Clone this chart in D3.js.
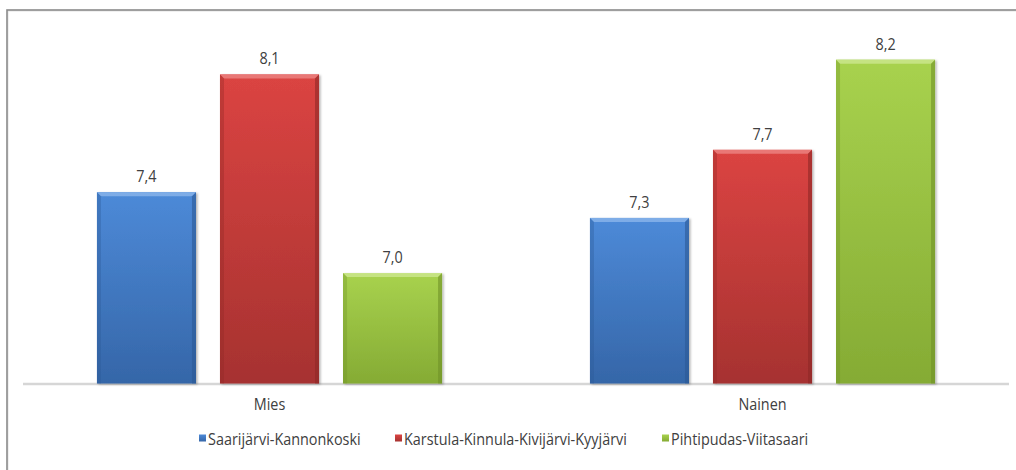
<!DOCTYPE html>
<html>
<head>
<meta charset="utf-8">
<script src="https://cdn.jsdelivr.net/npm/d3@7"></script>
<style>
  html, body { margin: 0; padding: 0; background: #ffffff; }
  svg { display: block; }
  text { font-family: "Open Sans", "DejaVu Sans", sans-serif; fill: #404040; }
</style>
</head>
<body>
<svg id="chart" width="1016" height="470"></svg>
<script>
// ---- data ----
const categories = ["Mies", "Nainen"];
const seriesNames = ["Saarijärvi-Kannonkoski", "Karstula-Kinnula-Kivijärvi-Kyyjärvi", "Pihtipudas-Viitasaari"];
const saarijarviValues = [7.44, 7.30];
const karstulaValues = [8.08, 7.67];
const pihtipudasValues = [7.00, 8.16];
const axisMin = 6.4;
const axisMax = 8.4;

const seriesValues = [saarijarviValues, karstulaValues, pihtipudasValues];
const colors = [
  { top: "#4d8ad8", bottom: "#3566a8", light: "#8fb8ec", dark: "#2c5894" },
  { top: "#db4442", bottom: "#a63230", light: "#ee8a88", dark: "#8e2826" },
  { top: "#a8d24e", bottom: "#85ab34", light: "#cfe894", dark: "#6f9128" }
];

const svg = d3.select("#chart");
const defs = svg.append("defs");

colors.forEach((c, i) => {
  const g = defs.append("linearGradient").attr("id", "grad" + i)
    .attr("x1", 0).attr("y1", 0).attr("x2", 0).attr("y2", 1);
  g.append("stop").attr("offset", "0%").attr("stop-color", c.top);
  g.append("stop").attr("offset", "100%").attr("stop-color", c.bottom);
});
const shadow = defs.append("filter").attr("id", "shadow")
  .attr("x", "-10%").attr("y", "-10%").attr("width", "130%").attr("height", "130%");
shadow.append("feDropShadow").attr("dx", 1.5).attr("dy", 1).attr("stdDeviation", 1.2)
  .attr("flood-color", "#000").attr("flood-opacity", 0.3);

// frame
svg.append("rect").attr("x", 8).attr("y", 11).attr("width", 1030).attr("height", 480)
  .attr("fill", "none").attr("stroke", "#e2e2e2").attr("stroke-width", 1);
svg.append("rect").attr("x", 7).attr("y", 10).attr("width", 1030).attr("height", 480)
  .attr("fill", "none").attr("stroke", "#8a8a8a").attr("stroke-width", 1.6);

// scales
const x0 = d3.scaleBand().domain(categories).range([23, 1009]).paddingInner(0.3).paddingOuter(0.15);
const x1 = d3.scaleBand().domain(d3.range(seriesNames.length)).range([0, x0.bandwidth()]).paddingInner(0.195).paddingOuter(0);
const y = d3.scaleLinear().domain([axisMin, axisMax]).range([383.5, 15.5]);

// axis line
svg.append("line").attr("x1", 23).attr("x2", 1009).attr("y1", 384).attr("y2", 384)
  .attr("stroke", "#d6d6d6").attr("stroke-width", 2.5);

const fmt = v => d3.format(".1f")(v).replace(".", ",");
const SX = 0.9;
function label(x, yy, txt, anchor, size) {
  return svg.append("text")
    .attr("transform", `translate(${x},${yy}) scale(${SX},1)`)
    .attr("text-anchor", anchor).attr("font-size", size).text(txt);
}

categories.forEach((cat, ci) => {
  seriesValues.forEach((vals, si) => {
    const v = vals[ci];
    const bx = x0(cat) + x1(si);
    const bw = x1.bandwidth();
    const by = y(v);
    const bh = y(axisMin) - by;
    const c = colors[si];
    const g = svg.append("g");
    g.append("rect").attr("x", bx).attr("y", by).attr("width", bw).attr("height", bh)
      .attr("fill", "url(#grad" + si + ")").attr("filter", "url(#shadow)");
    const e = 4;
    g.append("path").attr("d", `M${bx},${by} L${bx + bw},${by} L${bx + bw - e},${by + e} L${bx + e},${by + e} Z`)
      .attr("fill", c.light).attr("opacity", 0.75);
    g.append("path").attr("d", `M${bx},${by} L${bx + e},${by + e} L${bx + e},${by + bh} L${bx},${by + bh} Z`)
      .attr("fill", c.dark).attr("opacity", 0.35);
    g.append("path").attr("d", `M${bx + bw},${by} L${bx + bw - e},${by + e} L${bx + bw - e},${by + bh} L${bx + bw},${by + bh} Z`)
      .attr("fill", c.dark).attr("opacity", 0.6);
    label(bx + bw / 2, by - 10, fmt(v), "middle", 16);
  });
  label(x0(cat) + x0.bandwidth() / 2, 410, cat, "middle", 16);
});

// legend
const legendX = [199, 395, 662];
seriesNames.forEach((name, si) => {
  svg.append("rect").attr("x", legendX[si]).attr("y", 434.5).attr("width", 7).attr("height", 7)
    .attr("fill", "url(#grad" + si + ")");
  label(legendX[si] + 9, 445, name, "start", 16);
});
</script>
</body>
</html>
